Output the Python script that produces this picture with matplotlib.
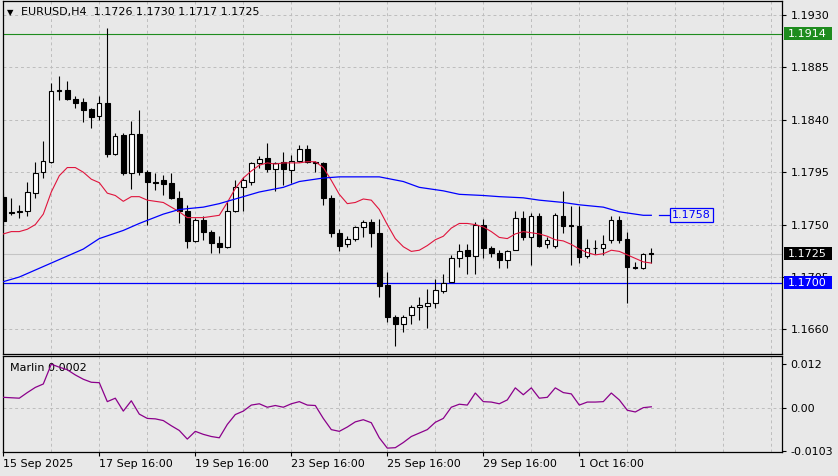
import matplotlib
matplotlib.use("Agg")
import matplotlib.pyplot as plt
from matplotlib.patches import Rectangle
import numpy as np

# ---------------- data ----------------
symbol = "EURUSD,H4"
last_ohlc = [1.1726, 1.1730, 1.1717, 1.1725]

opens = [1.1774, 1.1761, 1.1761, 1.1762, 1.1777, 1.1795, 1.1804, 1.1866, 1.1866, 1.1858,
         1.1855, 1.1849, 1.1843, 1.1854, 1.1811, 1.1827, 1.1794, 1.1828, 1.1795, 1.1787,
         1.1788, 1.1786, 1.1773, 1.1762, 1.1736, 1.1754, 1.1744, 1.1734, 1.1731, 1.1762,
         1.1782, 1.1787, 1.1803, 1.1807, 1.1798, 1.1804, 1.1797, 1.1805, 1.1815, 1.1804,
         1.1803, 1.1773, 1.1743, 1.1733, 1.1738, 1.1748, 1.1752, 1.1743, 1.1698, 1.1671,
         1.1665, 1.1672, 1.1679, 1.1680, 1.1683, 1.1693, 1.1701, 1.1721, 1.1728, 1.1723,
         1.1750, 1.1730, 1.1726, 1.1720, 1.1728, 1.1756, 1.1739, 1.1757, 1.1733, 1.1732,
         1.1757, 1.1750, 1.1749, 1.1723, 1.1730, 1.1730, 1.1737, 1.1754, 1.1738, 1.1714,
         1.1713, 1.1726]
highs = [1.1777, 1.1773, 1.1767, 1.1787, 1.1804, 1.1822, 1.1872, 1.1878, 1.1873, 1.1860,
         1.1859, 1.1850, 1.1860, 1.1919, 1.1829, 1.1829, 1.1839, 1.1848, 1.1797, 1.1794,
         1.1793, 1.1794, 1.1779, 1.1767, 1.1756, 1.1757, 1.1745, 1.1740, 1.1769, 1.1788,
         1.1791, 1.1804, 1.1809, 1.1820, 1.1804, 1.1812, 1.1810, 1.1818, 1.1818, 1.1805,
         1.1804, 1.1775, 1.1746, 1.1740, 1.1749, 1.1754, 1.1755, 1.1755, 1.1709, 1.1672,
         1.1672, 1.1681, 1.1688, 1.1695, 1.1703, 1.1708, 1.1724, 1.1733, 1.1733, 1.1752,
         1.1755, 1.1732, 1.1728, 1.1728, 1.1762, 1.1762, 1.1760, 1.1760, 1.1739, 1.1760,
         1.1779, 1.1766, 1.1766, 1.1738, 1.1737, 1.1741, 1.1757, 1.1757, 1.1744, 1.1718,
         1.1726, 1.1730]
lows = [1.1750, 1.1758, 1.1756, 1.1757, 1.1773, 1.1790, 1.1803, 1.1857, 1.1857, 1.1850,
        1.1838, 1.1833, 1.1840, 1.1808, 1.1810, 1.1793, 1.1781, 1.1793, 1.1750, 1.1780,
        1.1775, 1.1772, 1.1751, 1.1730, 1.1735, 1.1737, 1.1726, 1.1726, 1.1730, 1.1761,
        1.1762, 1.1784, 1.1799, 1.1795, 1.1779, 1.1784, 1.1786, 1.1804, 1.1803, 1.1795,
        1.1767, 1.1739, 1.1727, 1.1731, 1.1736, 1.1739, 1.1731, 1.1688, 1.1666, 1.1646,
        1.1658, 1.1665, 1.1668, 1.1661, 1.1678, 1.1691, 1.1701, 1.1714, 1.1708, 1.1708,
        1.1721, 1.1722, 1.1713, 1.1713, 1.1728, 1.1737, 1.1715, 1.1731, 1.1730, 1.1730,
        1.1743, 1.1715, 1.1717, 1.1721, 1.1725, 1.1724, 1.1734, 1.1734, 1.1683, 1.1712,
        1.1712, 1.1717]
closes = [1.1753, 1.1760, 1.1762, 1.1778, 1.1794, 1.1805, 1.1865, 1.1865, 1.1858, 1.1854,
          1.1848, 1.1842, 1.1854, 1.1811, 1.1826, 1.1794, 1.1828, 1.1795, 1.1787, 1.1786,
          1.1785, 1.1773, 1.1762, 1.1736, 1.1754, 1.1744, 1.1734, 1.1731, 1.1762, 1.1782,
          1.1788, 1.1803, 1.1806, 1.1798, 1.1803, 1.1798, 1.1805, 1.1815, 1.1804, 1.1803,
          1.1773, 1.1743, 1.1732, 1.1738, 1.1748, 1.1752, 1.1743, 1.1697, 1.1671, 1.1665,
          1.1671, 1.1679, 1.1681, 1.1683, 1.1694, 1.1700, 1.1721, 1.1727, 1.1723, 1.1750,
          1.1730, 1.1726, 1.1720, 1.1727, 1.1756, 1.1739, 1.1757, 1.1732, 1.1737, 1.1758,
          1.1749, 1.1749, 1.1722, 1.1730, 1.1730, 1.1733, 1.1754, 1.1737, 1.1714, 1.1713,
          1.1725, 1.1725]

red_ma = [1.1742, 1.1744, 1.1744, 1.1746, 1.1750, 1.1759, 1.1778, 1.1792, 1.1799, 1.1799,
          1.1795, 1.1789, 1.1786, 1.1777, 1.1775, 1.1770, 1.1774, 1.1774, 1.1771, 1.1770,
          1.1769, 1.1765, 1.1761, 1.1756, 1.1756, 1.1756, 1.1757, 1.1758, 1.1769, 1.1781,
          1.1790, 1.1796, 1.1801, 1.1803, 1.1802, 1.1803, 1.1803, 1.1803, 1.1804, 1.1804,
          1.1799, 1.1788, 1.1776, 1.1768, 1.1769, 1.1772, 1.1771, 1.1763, 1.1750, 1.1738,
          1.1731, 1.1727, 1.1728, 1.1732, 1.1737, 1.1740, 1.1747, 1.1751, 1.1751, 1.1750,
          1.1748, 1.1744, 1.1739, 1.1738, 1.1742, 1.1744, 1.1743, 1.1742, 1.1740, 1.1737,
          1.1736, 1.1733, 1.1729, 1.1726, 1.1724, 1.1725, 1.1728, 1.1727, 1.1724, 1.1721,
          1.1718, 1.1717]

blue_ma_bars = [0, 2, 5, 7, 10, 12, 15, 17, 20, 22, 25, 27, 30, 32, 35, 37, 40, 42, 45, 47,
                50, 52, 55, 57, 60, 62, 65, 67, 70, 72, 75, 77, 80, 81]
blue_ma = [1.1701, 1.1705, 1.1714, 1.1720, 1.1729, 1.1738, 1.1745, 1.1751, 1.1759, 1.1763,
           1.1765, 1.1768, 1.1774, 1.1778, 1.1782, 1.1787, 1.1790, 1.1791, 1.1791, 1.1791,
           1.1787, 1.1782, 1.1779, 1.1776, 1.1775, 1.1774, 1.1773, 1.1771, 1.1769, 1.1767,
           1.1765, 1.1761, 1.1758, 1.1758]

marlin = [0.0024, 0.0023, 0.0022, 0.0035, 0.0047, 0.0055, 0.0101, 0.0094, 0.0088, 0.0076,
          0.0066, 0.0059, 0.0058, 0.0014, 0.0022, -0.0008, 0.0016, -0.0015, -0.0025, -0.0026,
          -0.0030, -0.0042, -0.0053, -0.0073, -0.0055, -0.0062, -0.0067, -0.0070, -0.0039, -0.0016,
          -0.0008, 0.0006, 0.0009, 0.0001, 0.0005, 0.0001, 0.0009, 0.0014, 0.0006, 0.0005,
          -0.0025, -0.0051, -0.0055, -0.0045, -0.0033, -0.0028, -0.0035, -0.0070, -0.0094, -0.0093,
          -0.0081, -0.0067, -0.0059, -0.0051, -0.0034, -0.0025, 0.0001, 0.0008, 0.0006, 0.0034,
          0.0014, 0.0013, 0.0009, 0.0018, 0.0046, 0.0030, 0.0046, 0.0022, 0.0024, 0.0046,
          0.0035, 0.0032, 0.0006, 0.0013, 0.0013, 0.0014, 0.0034, 0.0018, -0.0006, -0.0010,
          0.0000, 0.0002]

green_level = 1.1914
blue_level = 1.1700
price_ticks = [1.1930, 1.1885, 1.1840, 1.1795, 1.1750, 1.1705, 1.1660]
date_labels = ["15 Sep 2025", "17 Sep 16:00", "19 Sep 16:00", "23 Sep 16:00",
               "25 Sep 16:00", "29 Sep 16:00", "1 Oct 16:00"]
date_label_bars = [0, 12, 24, 36, 48, 60, 72]
marlin_range = [-0.0103, 0.012]

# ---------------- layout ----------------
W, H = 838, 476
bg = "#E8E8E8"
grid_c = "#BDBDBD"
fig = plt.figure(figsize=(W / 100, H / 100), dpi=100)
fig.patch.set_facecolor(bg)

L, R = 2.5, 782
ax = fig.add_axes([L / W, 1 - 354 / H, (R - L) / W, (354 - 1) / H])
ax2 = fig.add_axes([L / W, 1 - 452 / H, (R - L) / W, (452 - 356) / H], sharex=ax)

xmin = -0.1
xmax = xmin + (R - L) / 8.0
ymin_p, ymax_p = 1.16389, 1.19420

for a in (ax, ax2):
    a.set_facecolor(bg)
    for s in a.spines.values():
        s.set_color("black")
        s.set_linewidth(0.9)

x = np.arange(len(opens))
o = np.array(opens); c = np.array(closes)
h = np.array(highs); l = np.array(lows)
up = c >= o

# grid
ax.set_xlim(xmin, xmax)
ax.set_ylim(ymin_p, ymax_p)
ax.set_xticks(np.arange(0, 98, 6), minor=True)
ax.set_xticks(date_label_bars)
ax.set_yticks(price_ticks)
ax.grid(True, which="both", axis="x", color=grid_c, linestyle=(0, (3, 3)), lw=0.7)
ax.grid(True, which="major", axis="y", color=grid_c, linestyle=(0, (3, 3)), lw=0.7)
ax.set_axisbelow(True)

# level lines
ax.axhline(last_ohlc[3], color="#C4C4C4", lw=0.8, zorder=1)
ax.axhline(green_level, color="#1E8C1E", lw=0.8, zorder=2)
ax.axhline(blue_level, color="#0000FF", lw=0.9, zorder=2)

# candles
ax.vlines(x, l, h, color="black", lw=0.8, zorder=3)
ax.bar(x[up], (c - o)[up], bottom=o[up], width=0.55, facecolor="white",
       edgecolor="black", lw=0.8, zorder=4)
ax.bar(x[~up], (o - c)[~up], bottom=c[~up], width=0.55, facecolor="black",
       edgecolor="black", lw=0.8, zorder=4)

# moving averages
ax.plot(x, red_ma, color="#E0143C", lw=0.8, zorder=5)
ax.plot(blue_ma_bars, blue_ma, color="#0000FF", lw=0.9, zorder=5)

# MA price tag
last_bar = x[-1]
ax.plot([last_bar + 1.0, last_bar + 2.3], [blue_ma[-1]] * 2, color="#0000FF", lw=0.9, zorder=5)
ax.text(last_bar + 2.55, blue_ma[-1], f"{blue_ma[-1]:.4f}", color="#0000FF", fontsize=8,
        va="center", ha="left", zorder=6,
        bbox=dict(boxstyle="square,pad=0.18", facecolor=bg, edgecolor="#0000FF", lw=0.9))

# right price axis
ax.yaxis.tick_right()
ax.set_yticklabels([f"{v:.4f}" for v in price_ticks])
ax.tick_params(axis="y", which="major", direction="out", length=3, width=0.8,
               labelsize=8, pad=3, colors="black")
ax.tick_params(axis="x", which="both", length=0, labelbottom=False)

# coloured price tags on the axis
ytr = ax.get_yaxis_transform()
px_h = (ymax_p - ymin_p) / 353.0
for val, fc in [(green_level, "#1E8C1E"), (last_ohlc[3], "black"), (blue_level, "#0000FF")]:
    ax.add_patch(Rectangle((1.0026, val - 6.5 * px_h), 48 / (R - L), 13 * px_h,
                           transform=ytr, facecolor=fc, edgecolor="none",
                           clip_on=False, zorder=10))
    ax.text(1.0077, val, f"{val:.4f}", transform=ytr, color="white", fontsize=8,
            va="center", ha="left", clip_on=False, zorder=11)

# title
fig.text(7 / W, 1 - 12.5 / H, "\u25BC", fontsize=6, va="center", ha="left")
fig.text(21 / W, 1 - 12 / H, f"{symbol}  " + " ".join(f"{v:.4f}" for v in last_ohlc),
         fontsize=8, va="center", ha="left")

# ---------------- indicator ----------------
ax2.set_ylim(marlin_range[0], marlin_range[1])
ax2.plot(x, marlin, color="#8B008B", lw=0.9, zorder=5)
ax2.grid(True, which="both", axis="x", color=grid_c, linestyle=(0, (3, 3)), lw=0.7)
ax2.axhline(0, color=grid_c, linestyle=(0, (3, 3)), lw=0.7, zorder=1)
ax2.set_axisbelow(True)
ax2.yaxis.tick_right()
ax2.set_yticks([0.0101, 0.0, -0.0101])
ax2.set_yticklabels([f"{marlin_range[1]:.3f}", "0.00", f"{marlin_range[0]:.4f}"])
ax2.tick_params(axis="y", direction="out", length=3, width=0.8, labelsize=8, pad=3)
ax2.set_xticks(date_label_bars)
ax2.set_xticklabels(date_labels)
for lbl in ax2.get_xticklabels():
    lbl.set_ha("left")
ax2.tick_params(axis="x", which="major", direction="out", length=3, width=0.8,
                labelsize=8, pad=2)
ax2.tick_params(axis="x", which="minor", length=0)
ax2.text(7 / (R - L) * 1.0 - 0.0, 0.88, f"Marlin {marlin[-1]:.4f}", transform=ax2.transAxes,
         fontsize=8, va="center", ha="left")

fig.savefig("out.png", dpi=100, facecolor=bg)
